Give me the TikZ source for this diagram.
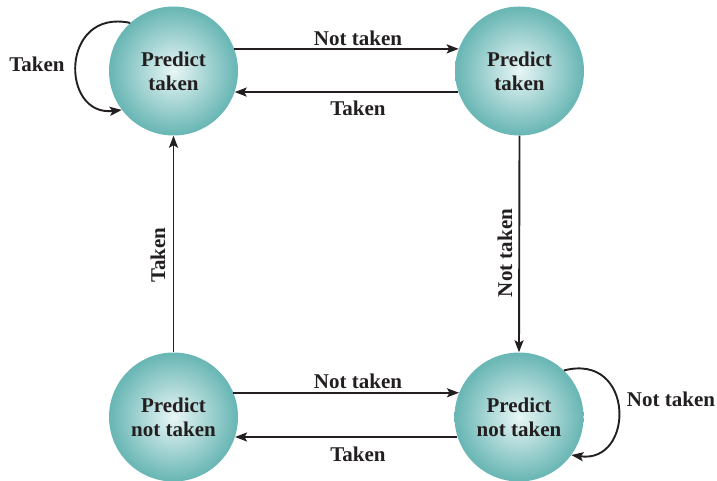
\documentclass[tikz,border=0pt]{standalone}
\usepackage{fontspec}
\setmainfont{Liberation Serif}
\usetikzlibrary{arrows.meta}
\definecolor{ballin}{RGB}{232,246,246}
\definecolor{ballmid}{RGB}{108,184,182}
\definecolor{ballout}{RGB}{52,153,150}
\definecolor{ink}{RGB}{35,31,32}
\pgfdeclareradialshading{stateball}{\pgfpoint{0bp}{0bp}}{color(0bp)=(ballin); color(24bp)=(ballmid); color(50bp)=(ballout); color(100bp)=(ballout)}
\begin{document}
\begin{tikzpicture}[x=1pt,y=-1pt,
  lbl/.style={font=\bfseries\fontsize{21}{24}\selectfont, text=ink, inner sep=0pt},
  state/.style={circle, minimum size=129pt, inner sep=0pt, shading=stateball, align=center, font=\bfseries\fontsize{21}{24}\selectfont, text=ink},
  conn/.style={draw=ink, line width=1.9pt, -{Stealth[length=12pt,width=9pt,inset=2.5pt]}}]
\useasboundingbox (0,0) rectangle (717,481);
\node[state] (TL) at (173.5,71) {Predict\\taken};
\node[state] (TR) at (519.5,71) {Predict\\taken};
\node[state] (BL) at (173.5,417) {Predict\\not taken};
\node[state] (BR) at (519,417) {Predict\\not taken};
% top pair
\draw[conn] (TL.20) -- (TR.160);
\draw[conn] (TR.199) -- (TL.-19);
\node[lbl] (l1) at (358,38) {Not taken};
\node[lbl] (l2) at (358,108) {Taken};
% verticals
\draw[conn] (TR.south) -- (BR.north);
\draw[conn] (BL.north) -- (TL.south);
\node[lbl, rotate=90] (l3) at (505,253) {Not taken};
\node[lbl, rotate=90] (l4) at (158,255) {Taken};
% bottom pair
\draw[conn] (BL.22) -- (BR.158);
\draw[conn] (BR.198) -- (BL.-18);
\node[lbl] (l5) at (358,381) {Not taken};
\node[lbl] (l6) at (358,454) {Taken};
% self loops
\draw[conn] (TL.132) .. controls (60,8) and (60,117) .. (TL.217);
\node[lbl] (l7) at (37,64) {Taken};
\draw[conn] (BR.46) .. controls (635,352) and (635,464) .. (BR.-36);
\node[lbl] (l8) at (671,399) {Not taken};
\end{tikzpicture}
\end{document}
